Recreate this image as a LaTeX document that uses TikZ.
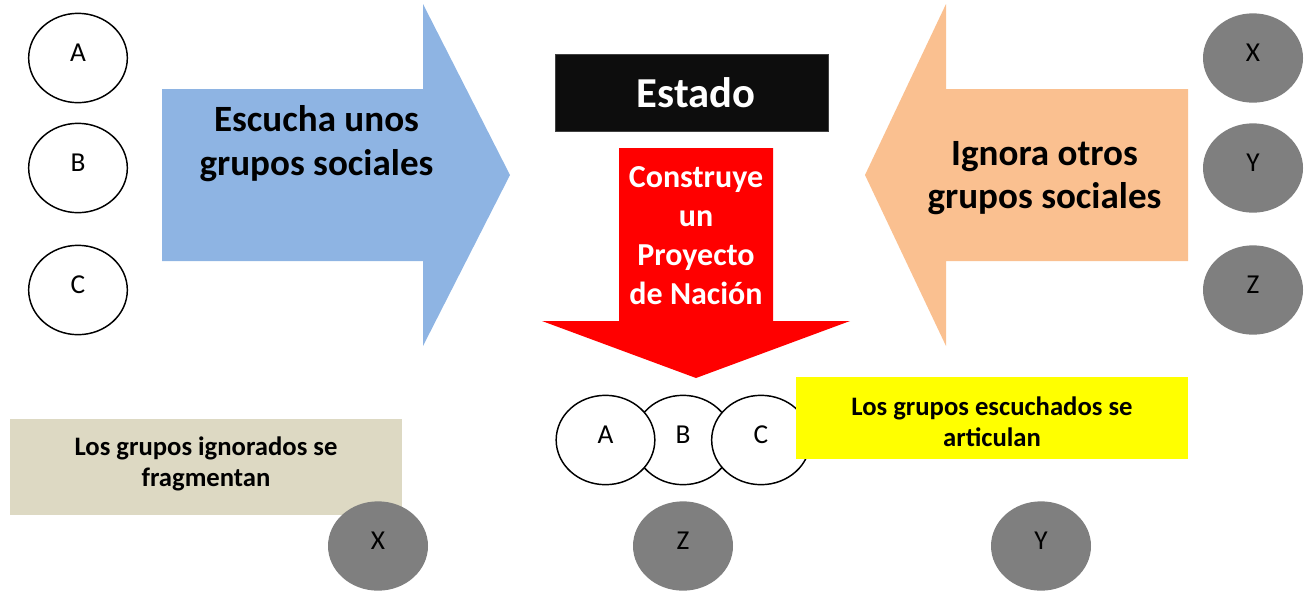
\documentclass[tikz,border=0pt]{standalone}
\usepackage{fontspec}
\setmainfont{Carlito}
\usetikzlibrary{shapes.geometric}
\definecolor{blueA}{HTML}{8EB4E3}
\definecolor{orangeA}{HTML}{FAC090}
\definecolor{beigeA}{HTML}{DDD9C3}
\definecolor{grayC}{HTML}{7F7F7F}
\definecolor{estadoA}{HTML}{0D0D0D}
\definecolor{redA}{HTML}{FF0000}
\definecolor{yellowA}{HTML}{FFFF00}
\begin{document}
\begin{tikzpicture}[x=0.75pt,y=-0.75pt,
  wcirc/.style={ellipse, draw=black, line width=1.1pt, fill=white, minimum width=74pt, minimum height=67pt, inner sep=0pt, text depth=7.5pt, font=\fontsize{20.5}{25}\selectfont},
  gcirc/.style={ellipse, fill=grayC, minimum width=75pt, minimum height=67pt, inner sep=0pt, text depth=7.5pt, font=\fontsize{20.5}{25}\selectfont},
  bigtxt/.style={align=center, inner sep=0pt, font=\bfseries\fontsize{27.8}{33}\selectfont},
  redtxt/.style={align=center, inner sep=0pt, text=white, font=\bfseries\fontsize{24}{29.25}\selectfont},
  smalltxt/.style={align=center, inner sep=0pt, font=\bfseries\fontsize{20}{23.2}\selectfont}
]
\useasboundingbox (0,0) rectangle (1310,593);

% left circles
\node[wcirc] (lA) at (78,58) {A};
\node[wcirc] (lB) at (78,168) {B};
\node[wcirc] (lC) at (78,290) {C};

% right gray circles
\node[gcirc] (rX) at (1253,58) {X};
\node[gcirc] (rY) at (1253,168) {Y};
\node[gcirc] (rZ) at (1253,290) {Z};

% blue arrow
\fill[blueA] (162,89) -- (423,89) -- (423,4) -- (510,175) -- (423,346) -- (423,261) -- (162,261) -- cycle;
\node[bigtxt] (escucha) at (316.5,144) {Escucha unos\\grupos sociales};

% orange arrow
\fill[orangeA] (1188,89) -- (946,89) -- (946,4) -- (865,175) -- (946,346) -- (946,261) -- (1188,261) -- cycle;
\node[bigtxt, font=\bfseries\fontsize{27.8}{32.5}\selectfont] (ignora) at (1044.5,178) {Ignora otros\\grupos sociales};

% Estado box
\node[draw=black!75, fill=estadoA, minimum width=204.75pt, minimum height=57.75pt, inner sep=0pt, line width=0.6pt] (estadobox) at (691.5,92.5) {};
\node[text=white, inner sep=0pt, font=\bfseries\fontsize{32}{38}\selectfont] (estado) at (696,92.5) {Estado};

% red arrow
\fill[redA] (619,148) -- (773,148) -- (773,321) -- (850,321) -- (696,378) -- (542,321) -- (619,321) -- cycle;
\node[redtxt] (construye) at (696,236) {Construye\\un\\Proyecto\\de Nación};

% bottom: articulated circles
\node[wcirc] (bB) at (683,440) {B};
\node[wcirc] (bA) at (605.5,440) {A};
\node[wcirc] (bC) at (761,440) {C};

% yellow box
\node[fill=yellowA, minimum width=294pt, minimum height=61.5pt, inner sep=0pt] (yellowbox) at (992,418) {};
\node[smalltxt] (escuchados) at (992,422) {Los grupos escuchados se\\articulan};

% beige box
\node[fill=beigeA, minimum width=294pt, minimum height=72pt, inner sep=0pt] (beigebox) at (206,467) {};
\node[smalltxt] (ignorados) at (206,463.5) {Los grupos ignorados se\\fragmentan};

% bottom gray circles
\node[gcirc] (bX) at (378,546) {X};
\node[gcirc] (bZ) at (683,546) {Z};
\node[gcirc] (bY) at (1041,546) {Y};
\end{tikzpicture}
\end{document}
